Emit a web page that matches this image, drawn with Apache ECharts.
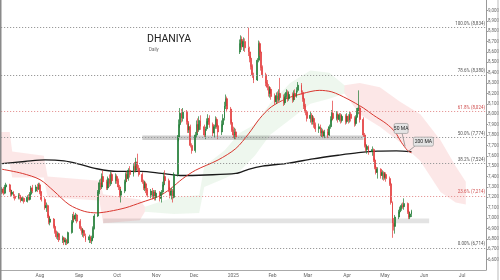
<!DOCTYPE html>
<html><head><meta charset="utf-8">
<script src="https://cdn.jsdelivr.net/npm/echarts@6/dist/echarts.min.js"></script>
<style>html,body{margin:0;padding:0;background:#fff}#c{width:500px;height:280px}</style>
</head><body><div id="c"></div>
<script>
// ---- daily candles per month: [open, close, low, high] ----
const jul24 = [[7250,7280,7230,7300],[7280,7240,7220,7300],[7240,7300,7230,7320],[7300,7320,7280,7340],[7320,7270,7250,7330],[7270,7230,7210,7280],[7230,7250,7210,7270],[7250,7210,7190,7260],[7210,7190,7170,7230],[7190,7220,7180,7240],[7220,7200,7180,7240],[7200,7170,7150,7210],[7170,7190,7160,7210],[7190,7160,7140,7200],[7160,7200,7150,7220],[7200,7180,7170,7230],[7180,7230,7170,7250],[7230,7290,7220,7310],[7290,7260,7240,7320],[7260,7300,7250,7320],[7300,7280,7250,7330],[7280,7320,7270,7340]];
const aug24 = [[7320,7250,7230,7340],[7250,7180,7160,7260],[7180,7100,7080,7200],[7100,7120,7060,7150],[7120,7020,7000,7130],[7020,6960,6940,7040],[6960,6990,6930,7010],[6990,6920,6900,7000],[6920,6870,6850,6940],[6870,6820,6800,6880],[6820,6850,6790,6870],[6850,6790,6770,6860],[6790,6810,6760,6830],[6810,6770,6740,6820],[6770,6790,6740,6810],[6790,6760,6740,6800],[6760,6860,6750,6870],[6860,6960,6850,6980],[6960,7020,6940,7040],[7020,6990,6970,7060],[6990,7030,6970,7050],[7030,6970,6950,7040]];
const sep24 = [[6970,6900,6880,6990],[6900,6860,6840,6920],[6860,6880,6820,6900],[6880,6830,6810,6890],[6830,6790,6770,6850],[6790,6820,6760,6840],[6820,6780,6760,6830],[6780,6810,6750,6830],[6810,6900,6790,6920],[6900,7020,6890,7040],[7020,7250,7010,7270],[7250,7340,7230,7370],[7340,7300,7270,7380],[7300,7400,7280,7430],[7400,7350,7320,7460],[7350,7290,7270,7370],[7290,7380,7270,7400],[7380,7330,7300,7420],[7330,7420,7310,7450],[7420,7360,7340,7440],[7360,7400,7330,7430]];
const oct24 = [[7400,7360,7330,7420],[7360,7300,7270,7380],[7300,7220,7200,7320],[7220,7260,7150,7280],[7260,7350,7240,7370],[7350,7420,7330,7440],[7420,7380,7350,7450],[7380,7460,7360,7480],[7460,7420,7390,7500],[7420,7500,7400,7520],[7500,7460,7440,7540],[7460,7540,7440,7580],[7540,7480,7450,7620],[7480,7420,7400,7510],[7420,7350,7330,7440],[7350,7290,7270,7370],[7290,7330,7260,7360],[7330,7270,7240,7350],[7270,7220,7200,7290],[7220,7260,7190,7280],[7260,7210,7180,7290],[7210,7250,7190,7270],[7250,7200,7170,7270]];
const nov24 = [[7200,7240,7170,7270],[7240,7190,7160,7260],[7190,7250,7150,7270],[7250,7320,7230,7350],[7320,7400,7300,7440],[7400,7360,7330,7460],[7360,7280,7250,7380],[7280,7220,7190,7300],[7220,7260,7180,7290],[7260,7200,7150,7280],[7200,7420,7190,7440],[7420,7780,7400,7800],[7780,7900,7740,7950],[7900,8010,7870,8060],[8010,7960,7920,8050],[7960,8020,7930,8060],[8020,7930,7900,8040],[7930,7850,7820,7960],[7850,7880,7820,7910],[7880,7700,7680,7900],[7700,7650,7620,7720]];
const dec24 = [[7650,7800,7630,7830],[7800,7900,7780,7940],[7900,7850,7820,7960],[7850,7940,7830,7980],[7940,7880,7850,7990],[7880,7800,7780,7900],[7800,7860,7760,7880],[7860,7930,7840,7960],[7930,7960,7900,8000],[7960,7900,7870,7990],[7900,7820,7790,7920],[7820,7880,7780,7900],[7880,7950,7860,7980],[7950,7890,7860,7970],[7890,7830,7760,7910],[7830,7900,7800,7940],[7900,7960,7880,8000],[7960,8080,7940,8120],[8080,8150,8050,8190],[8150,8050,8020,8170],[8050,7920,7900,8070],[7920,7850,7830,7950]];
const jan25 = [[7850,7800,7770,7880],[7800,7830,7760,7870],[7830,7780,7760,7860],[8600,8680,8580,8720],[8680,8720,8640,8760],[8720,8650,8620,8750],[8650,8700,8610,8740],[8700,8640,8600,8730],[8640,8600,8560,8834],[8600,8540,8500,8650],[8540,8460,8430,8560],[8460,8380,8350,8480],[8380,8330,8300,8400],[8330,8520,8320,8540],[8520,8680,8500,8710],[8680,8600,8560,8700],[8600,8450,8420,8620],[8450,8380,8350,8470],[8380,8300,8270,8400],[8300,8260,8230,8330],[8260,8200,8170,8290],[8200,8240,8160,8270],[8240,8170,8140,8260]];
const feb25 = [[8170,8120,8090,8200],[8120,8180,8100,8210],[8180,8140,8110,8220],[8140,8200,8120,8240],[8200,8160,8130,8350],[8160,8110,8080,8190],[8110,8170,8090,8200],[8170,8210,8150,8240],[8210,8150,8120,8230],[8150,8190,8130,8220],[8190,8140,8110,8210],[8140,8200,8120,8230],[8200,8170,8140,8240],[8170,8230,8160,8260],[8230,8280,8210,8310],[8280,8210,8190,8300],[8210,8150,8120,8230],[8150,8080,8050,8170],[8080,8020,7990,8100],[8020,7960,7930,8040]];
const mar25 = [[7960,7990,7920,8030],[7990,7930,7900,8010],[7930,7960,7900,7990],[7960,7900,7870,7980],[7900,7860,7830,7920],[7860,7880,7820,7910],[7880,7820,7790,7900],[7820,7840,7780,7870],[7840,7790,7770,7860],[7790,7830,7770,7850],[7830,7800,7770,7860],[7800,7880,7790,7900],[7880,7950,7860,7980],[7950,8010,7930,8040],[8010,7960,7940,8130],[7960,8000,7940,8030],[8000,7950,7920,8020],[7950,7990,7930,8010],[7990,7940,7910,8010],[7940,7980,7920,8000],[7980,7930,7900,8000]];
const apr25 = [[7930,7980,7910,8010],[7980,7940,7910,8000],[7940,8000,7920,8030],[8000,7960,7930,8020],[7960,7910,7880,7980],[7910,7970,7890,7990],[7970,8030,7950,8060],[8030,8060,8000,8230],[8060,7950,7920,8080],[7950,7800,7780,7970],[7800,7700,7680,7820],[7700,7660,7640,7730],[7660,7690,7620,7710],[7690,7640,7610,7700],[7640,7660,7600,7690],[7660,7560,7540,7670],[7560,7490,7470,7580],[7490,7440,7420,7510],[7440,7470,7380,7490],[7470,7410,7380,7480],[7410,7440,7370,7460],[7440,7390,7360,7450]];
const may25 = [[7390,7420,7370,7440],[7420,7380,7350,7440],[7380,7330,7310,7400],[7330,7150,7130,7350],[7150,6950,6810,7160],[6950,6920,6880,7000],[6920,7010,6850,7030],[7010,7060,6990,7080],[7060,7090,7040,7110],[7090,7120,7070,7140],[7120,7110,7090,7150],[7110,7140,7080,7190],[7140,7060,7040,7150],[7060,7010,6990,7080],[7010,7040,6990,7060],[7040,7066,7010,7080]];
const monthStarts = ['2024-07-02','2024-08-01','2024-09-01','2024-10-01','2024-11-01','2024-12-01','2025-01-01','2025-02-01','2025-03-01','2025-04-01','2025-05-01'];
const monthRows = [jul24, aug24, sep24, oct24, nov24, dec24, jan25, feb25, mar25, apr25, may25];

// ---- moving averages ----
const ma50Dates = ['2024-07-02','2024-07-18','2024-08-01','2024-08-12','2024-08-24','2024-09-05','2024-09-15','2024-09-25','2024-10-08','2024-10-20','2024-11-03','2024-11-12','2024-11-22','2024-12-02','2024-12-20','2025-01-03','2025-01-13','2025-01-22','2025-01-31','2025-02-12','2025-02-25','2025-03-10','2025-03-20','2025-04-01','2025-04-14','2025-04-22','2025-05-02','2025-05-09','2025-05-14','2025-05-19','2025-05-22'];
const ma50Values = [7470,7430,7370,7260,7130,7065,7050,7065,7100,7150,7210,7280,7380,7460,7560,7670,7810,7960,8070,8150,8200,8230,8215,8150,8060,7990,7910,7830,7730,7650,7629];
const ma200Dates = ['2024-07-02','2024-07-20','2024-08-05','2024-08-20','2024-09-01','2024-09-15','2024-10-01','2024-10-20','2024-11-05','2024-11-20','2024-12-10','2025-01-03','2025-01-13','2025-01-24','2025-02-14','2025-03-05','2025-03-25','2025-04-10','2025-04-25','2025-05-10','2025-05-22'];
const ma200Values = [7525,7545,7560,7550,7520,7475,7450,7450,7430,7410,7415,7430,7470,7500,7530,7570,7605,7630,7645,7648,7640];

// ---- ichimoku cloud bands: [date, lower, upper] ----
const cloudBear1 = [['2024-07-01',7520,7830],['2024-07-08',7520,7830],['2024-07-10',7390,7640],['2024-08-04',7390,7600],['2024-08-07',7200,7400],['2024-09-17',7170,7360],['2024-09-20',6950,7230],['2024-10-19',6980,7180],['2024-10-23',7060,7110]];
const cloudBull = [['2024-10-23',7060,7110],['2024-11-15',7040,7200],['2024-12-05',7050,7220],['2024-12-09',7300,7500],['2024-12-25',7380,7650],['2025-01-06',7450,7820],['2025-01-18',7600,7900],['2025-01-30',7800,8100],['2025-02-15',7950,8300],['2025-03-03',8100,8420],['2025-03-18',8150,8400],['2025-03-30',8200,8280]];
const cloudBear2 = [['2025-03-30',8200,8280],['2025-04-11',8000,8300],['2025-04-27',7880,8260],['2025-05-13',7730,8120],['2025-05-29',7550,8000],['2025-06-14',7250,7750],['2025-06-26',7150,7500],['2025-07-04',7130,7350]];

// ---- fibonacci levels ----
const fibNames = ['100.0%','78.6%','61.8%','50.0%','38.2%','23.6%','0.00%'];
const fibValues = [8834, 8380, 8024, 7774, 7524, 7214, 6714];

// ---- support zones ----
const zoneStart = ['2024-10-21','2024-09-20'];
const zoneEnd = ['2025-04-14','2025-06-05'];
const zoneLow = [7752, 6950];
const zoneHigh = [7796, 6995];

// ---- last values ----
const lastClose = 7066, lastMa200 = 7640, lastMa50 = 7629;
const noteTexts = ['50 MA', '200 MA'];
const noteDates = ['2025-05-17', '2025-05-18'];
const noteValues = [7680, 7635];

const MONTHS = ['Jan','Feb','Mar','Apr','May','Jun','Jul','Aug','Sep','Oct','Nov','Dec'];
function ts(s){const p=s.split('-').map(Number);return new Date(p[0],p[1]-1,p[2]).getTime();}
const fmt = v => Number(v).toLocaleString('en-US');

const candles = [];
monthStarts.forEach((s, i) => {
  const d = new Date(ts(s));
  monthRows[i].forEach(r => {
    while (d.getDay() === 0 || d.getDay() === 6) d.setDate(d.getDate() + 1);
    candles.push([d.getTime(), r[0], r[1], r[2], r[3]]);
    d.setDate(d.getDate() + 1);
  });
});
const ma50 = ma50Dates.map((d, i) => [ts(d), ma50Values[i]]);
const ma200 = ma200Dates.map((d, i) => [ts(d), ma200Values[i]]);

function cloud(pts, color) {
  return {
    type: 'custom', silent: true, z: 1,
    encode: {x: 0, y: [1, 2]},
    data: [[ts(pts[0][0]), pts[0][1], pts[0][2]]],
    renderItem: (params, api) => {
      const top = pts.map(p => api.coord([ts(p[0]), p[2]]));
      const bot = pts.map(p => api.coord([ts(p[0]), p[1]])).reverse();
      return {type: 'polygon', shape: {points: top.concat(bot)}, style: {fill: color}};
    }
  };
}

const redFib = {2: true, 5: true};
const chart = echarts.init(document.getElementById('c'));
const option = {
  animation: false,
  backgroundColor: '#fff',
  textStyle: {fontFamily: 'Roboto'},
  title: [
    {text: 'DHANIYA', left: 147, top: 34, padding: 0, textStyle: {fontSize: 10.5, fontWeight: 'normal', color: '#222', fontFamily: 'Roboto'}},
    {text: 'Daily', left: 149, top: 47, padding: 0, textStyle: {fontSize: 4.5, fontWeight: 'normal', color: '#666', fontFamily: 'Roboto'}}
  ],
  grid: {left: 1, right: 14, top: 0, bottom: 10, outerBoundsMode: 'none', containLabel: false},
  xAxis: {
    type: 'time', min: ts('2024-07-01') + 3 * 3600e3, max: ts('2025-07-20'),
    splitNumber: 12, minInterval: 28 * 864e5, maxInterval: 31 * 864e5,
    axisLine: {lineStyle: {color: '#aaa', width: 1}}, axisTick: {show: false}, splitLine: {show: false},
    axisLabel: {fontSize: 5, color: '#666', margin: 3, formatter: v => { const d = new Date(v); return d.getMonth() === 0 ? String(d.getFullYear()) : MONTHS[d.getMonth()]; }}
  },
  yAxis: {
    type: 'value', position: 'right', min: 6500, max: 9100, interval: 100,
    axisLine: {show: true, lineStyle: {color: '#999'}}, axisTick: {show: true, length: 2, lineStyle: {color: '#999'}},
    splitLine: {show: false},
    axisLabel: {fontSize: 4.5, color: '#666', margin: 2, showMinLabel: false, showMaxLabel: false, formatter: v => fmt(v)}
  },
  series: [
    cloud(cloudBear1, 'rgba(240,110,110,0.17)'),
    cloud(cloudBull, 'rgba(120,190,120,0.13)'),
    cloud(cloudBear2, 'rgba(240,110,110,0.17)'),
    {
      type: 'line', name: 'levels', data: ma200, symbol: 'none', silent: true, z: 2,
      lineStyle: {opacity: 0},
      markArea: {silent: true, data: zoneStart.map((s, i) => [
        {xAxis: ts(s), yAxis: zoneLow[i], itemStyle: {color: i === 0 ? '#cdcdcd' : '#e3e3e3'}},
        {xAxis: ts(zoneEnd[i]), yAxis: zoneHigh[i]}
      ])},
      markLine: {silent: true, symbol: 'none', animation: false,
        data: fibValues.map((v, i) => ({
          yAxis: v,
          lineStyle: {type: [1.2, 1.8], width: 1, color: redFib[i] ? '#e69a9a' : '#9a9a9a'},
          label: {show: true, position: 'insideEndTop', distance: 1, fontSize: 4.5,
            color: redFib[i] ? '#d05050' : '#555', formatter: fibNames[i] + ' (' + fmt(v) + ')'}
        }))
      }
    },
    {type: 'line', name: '200 MA', data: ma200, symbol: 'none', smooth: 0.3, z: 3, silent: true,
      lineStyle: {color: '#1a1a1a', width: 1.3}},
    {type: 'line', name: '50 MA', data: ma50, symbol: 'none', smooth: 0.3, z: 3, silent: true,
      lineStyle: {color: '#d9372f', width: 1}},
    {
      type: 'candlestick', name: 'DHANIYA', data: candles, encode: {x: 0, y: [1, 2, 3, 4]},
      barWidth: 1.4, z: 4,
      itemStyle: {color: '#1e7b34', color0: '#e2383a', borderColor: '#1e7b34', borderColor0: '#e2383a', borderWidth: 0.7},
      markLine: {silent: true, symbol: 'none', animation: false, z: 10,
        lineStyle: {opacity: 0},
        label: {show: true, position: 'end', distance: 1, fontSize: 4.5, color: '#fff', padding: [1, 1.5, 0.5, 1.5]},
        data: [
          {yAxis: lastMa200, label: {formatter: fmt(lastMa200), backgroundColor: '#111', offset: [0, -2.5]}},
          {yAxis: lastMa50, label: {formatter: fmt(lastMa50), backgroundColor: '#e0261f', offset: [0, 2.5]}},
          {yAxis: lastClose, label: {formatter: fmt(lastClose), backgroundColor: '#1e7b34'}}
        ]
      }
    }
  ]
};
chart.setOption(option);

const gfx = [
  {type: 'rect', shape: {x: 0, y: 0, width: 1.5, height: 280}, style: {fill: '#8a8a8a'}, z: 100},
  {type: 'rect', shape: {x: 497.5, y: 0, width: 1, height: 280}, style: {fill: '#bbb'}, z: 100}
];
const boxes = [
  {w: 14, h: 10, bx: -11, by: -24, lx0: -3, ly0: -14, lx1: 0, ly1: -1},
  {w: 20, h: 9, bx: 7, by: -15, lx0: 9, ly0: -6.5, lx1: 1, ly1: 0}
];
noteTexts.forEach((t, i) => {
  const a = chart.convertToPixel({gridIndex: 0}, [ts(noteDates[i]), noteValues[i]]);
  const b = boxes[i];
  gfx.push({type: 'line', shape: {x1: a[0] + b.lx0, y1: a[1] + b.ly0, x2: a[0] + b.lx1, y2: a[1] + b.ly1}, style: {stroke: '#888', lineWidth: 0.8}, z: 101});
  gfx.push({type: 'rect', shape: {x: a[0] + b.bx, y: a[1] + b.by, width: b.w, height: b.h, r: 1.5}, style: {fill: '#e4e4e4', stroke: '#999', lineWidth: 0.7}, z: 102});
  gfx.push({type: 'text', x: a[0] + b.bx + b.w / 2, y: a[1] + b.by + b.h / 2, style: {text: t, fontSize: 5, fill: '#222', align: 'center', verticalAlign: 'middle', fontFamily: 'Roboto'}, z: 103});
});
chart.setOption({graphic: gfx});
</script>
</body></html>
